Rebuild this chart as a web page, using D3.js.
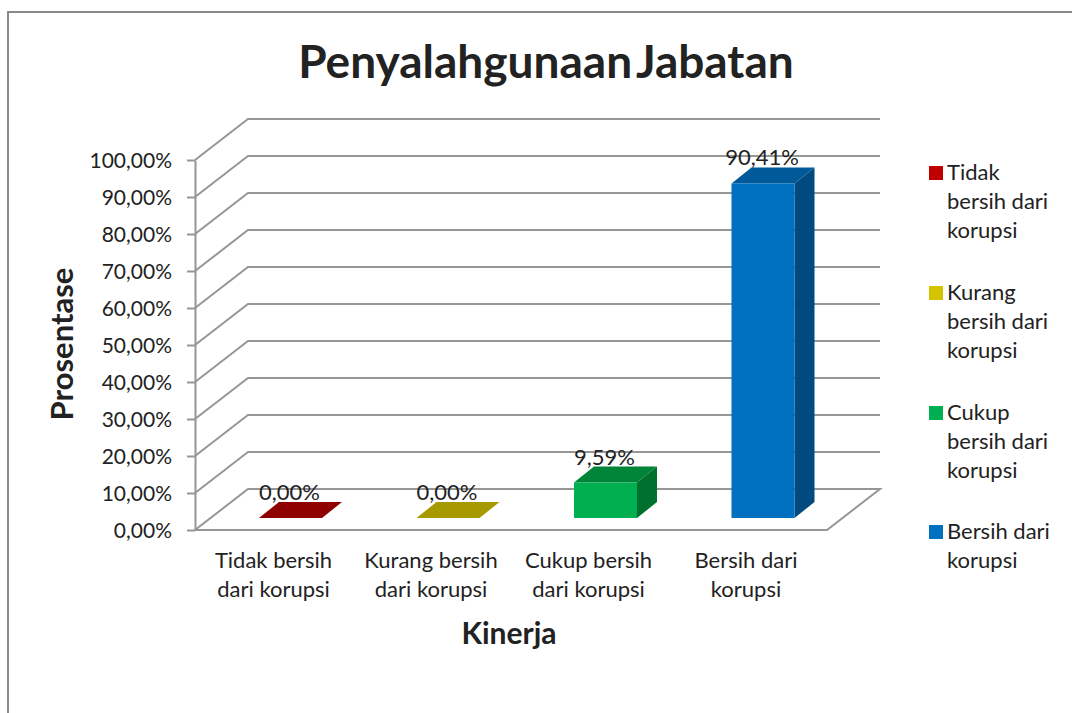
<!DOCTYPE html>
<meta charset="utf-8">
<style>
    html, body { margin: 0; padding: 0; background: #fff; }
    svg { display: block; }
    text { font-family: Lato, sans-serif; fill: #222; }
</style>
<svg width="1072" height="713"></svg>
<script src="https://cdn.jsdelivr.net/npm/d3@7"></script>
<script>
    var categories = ["Tidak bersih dari korupsi", "Kurang bersih dari korupsi", "Cukup bersih dari korupsi", "Bersih dari korupsi"];
    var values = [0, 0, 9.59, 90.41];
    var valueLabels = ["0,00%", "0,00%", "9,59%", "90,41%"];
    var tickValues = [0, 10, 20, 30, 40, 50, 60, 70, 80, 90, 100];
    var catLines = [["Tidak bersih", "dari korupsi"], ["Kurang bersih", "dari korupsi"], ["Cukup bersih", "dari korupsi"], ["Bersih dari", "korupsi"]];
    var legendLines = [["Tidak", "bersih dari", "korupsi"], ["Kurang", "bersih dari", "korupsi"], ["Cukup", "bersih dari", "korupsi"], ["Bersih dari", "korupsi"]];
    var frontColors = ["#c00000", "#d4c400", "#00b050", "#0070c0"];
    var topColors = ["#8f0000", "#a69a00", "#008438", "#005a9a"];
    var sideColors = ["#7a0000", "#8c8200", "#00702f", "#004a80"];

    var svg = d3.select("svg");

    // depth of the 3d box and of the bars inside it
    var depthX = 53, depthY = -41, barDX = 20, barDY = -16;

    var x = d3.scaleBand().domain(categories).range([195, 825]);
    var y = d3.scaleLinear().domain([0, 100]).range([530, 160]);
    var barW = x.bandwidth() * 0.4, barInset = 64, barLift = 12;
    var gridColor = "#969696";

    // chart frame
    svg.append("path")
        .attr("d", "M8,713V12H1072")
        .attr("fill", "none").attr("stroke", "#8a8a8a").attr("stroke-width", 2);

    // gridlines: wall and side
    var grid = svg.append("g").attr("fill", "none").attr("stroke", gridColor).attr("stroke-width", 2);
    grid.selectAll("path").data(tickValues.slice(1)).enter().append("path")
        .attr("d", function (d) {
            return "M195," + y(d) + "L" + (195 + depthX) + "," + (y(d) + depthY) + "H880";
        });

    // floor
    grid.append("path").attr("d", "M195," + y(0) + "L" + (195 + depthX) + "," + (y(0) + depthY) + "H880L827," + y(0) + "H195");

    // y axis line + ticks
    var yAxis = d3.axisLeft(y).tickValues(tickValues).tickSize(8).tickPadding(15).tickSizeOuter(0)
        .tickFormat(function (d) { return d3.format(".2f")(d).replace(".", ",") + "%"; });
    var yG = svg.append("g").attr("transform", "translate(195,0)").call(yAxis);
    yG.select(".domain").attr("stroke", gridColor).attr("stroke-width", 2);
    yG.selectAll(".tick line").attr("stroke", gridColor).attr("stroke-width", 2);
    yG.selectAll("text").attr("font-size", 21).attr("y", 1).style("font-family", "Lato, sans-serif").attr("fill", "#222");

    // bars
    var bars = svg.append("g").selectAll("g").data(values).enter().append("g");
    function barLeft(i) { return x(categories[i]) + barInset; }
    function barBase() { return y(0) - barLift; }
    function barTop(d) { return y(d) - barLift; }

    bars.append("path") // side
        .attr("fill", function (d, i) { return sideColors[i]; })
        .attr("d", function (d, i) {
            var r = barLeft(i) + barW;
            return "M" + r + "," + barBase() + "l" + barDX + "," + barDY + "V" + (barTop(d) + barDY) + "L" + r + "," + barTop(d) + "Z";
        });
    bars.append("path") // top
        .attr("fill", function (d, i) { return topColors[i]; })
        .attr("d", function (d, i) {
            return "M" + barLeft(i) + "," + barTop(d) + "l" + barDX + "," + barDY + "h" + barW + "l" + (-barDX) + "," + (-barDY) + "Z";
        });
    bars.append("rect") // front
        .attr("x", function (d, i) { return barLeft(i); })
        .attr("y", function (d) { return barTop(d); })
        .attr("width", barW)
        .attr("height", function (d) { return barBase() - barTop(d); })
        .attr("fill", function (d, i) { return frontColors[i]; });

    // value labels
    svg.append("g").selectAll("text").data(values).enter().append("text")
        .attr("x", function (d, i) { return barLeft(i) + barW / 2 - 1; })
        .attr("y", function (d) { return barTop(d) + barDY - 2; })
        .attr("text-anchor", "middle").attr("font-size", 22)
        .text(function (d, i) { return valueLabels[i]; });

    // category labels
    svg.append("g").selectAll("text").data(catLines).enter().append("text")
        .attr("text-anchor", "middle").attr("font-size", 22)
        .attr("transform", function (d, i) { return "translate(" + (barLeft(i) + barW / 2 - 17) + ",568)"; })
        .selectAll("tspan").data(function (d) { return d; }).enter().append("tspan")
        .attr("x", 0).attr("y", function (d, i) { return i * 29; })
        .text(function (d) { return d; });

    // titles
    svg.append("text").attr("x", 546).attr("y", 78).attr("text-anchor", "middle")
        .attr("font-size", 46).attr("word-spacing", -6).attr("font-weight", 700).attr("fill", "#000")
        .text("Penyalahgunaan Jabatan");
    svg.append("text").attr("x", 509).attr("y", 644).attr("text-anchor", "middle")
        .attr("font-size", 30).attr("font-weight", 700).text("Kinerja");
    svg.append("text").attr("transform", "translate(73,344) rotate(-90)").attr("text-anchor", "middle")
        .attr("font-size", 31).attr("font-weight", 700).text("Prosentase");

    // legend
    var legendTops = [180, 300, 420, 539];
    var legend = svg.append("g").selectAll("g").data(legendLines).enter().append("g")
        .attr("transform", function (d, i) { return "translate(929," + legendTops[i] + ")"; });
    legend.append("rect").attr("y", -14).attr("width", 14).attr("height", 14)
        .attr("fill", function (d, i) { return frontColors[i]; });
    legend.selectAll("text").data(function (d) { return d; }).enter().append("text")
        .attr("x", 18).attr("y", function (d, i) { return i * 29; })
        .attr("font-size", 22)
        .text(function (d) { return d; });
</script>
